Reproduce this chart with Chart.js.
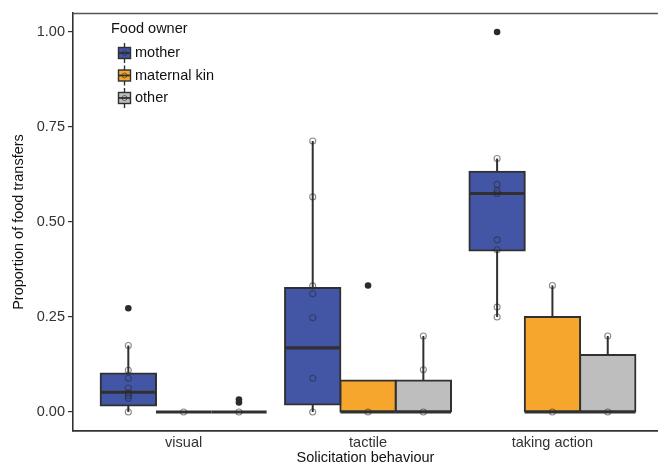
<!DOCTYPE html>
<html>
<head>
<meta charset="utf-8">
<script src="https://cdn.jsdelivr.net/npm/chart.js@4.4.1/dist/chart.umd.min.js"></script>
<style>
  html, body { margin: 0; padding: 0; background: #ffffff; overflow: hidden; }
  #wrap { width: 663px; height: 468px; position: relative; }
</style>
</head>
<body>
<div id="wrap"><canvas id="chart"></canvas></div>
<script>
// Solicitation behaviours on the x axis
const categories = ['visual', 'tactile', 'taking action'];
const owners = ['mother', 'maternal kin', 'other'];
const yTicks = [0, 0.25, 0.5, 0.75, 1];

// Box statistics per behaviour (lower whisker, Q1, median, Q3, upper whisker)
const motherLow = [0, 0, 0.25];
const motherQ1 = [0.017, 0.020, 0.425];
const motherMedian = [0.052, 0.169, 0.575];
const motherQ3 = [0.101, 0.326, 0.632];
const motherHigh = [0.175, 0.713, 0.667];

const kinLow = [0, 0, 0];
const kinQ1 = [0, 0, 0];
const kinMedian = [0, 0, 0];
const kinQ3 = [0, 0.083, 0.25];
const kinHigh = [0, 0.083, 0.333];

const otherLow = [0, 0, 0];
const otherQ1 = [0, 0, 0];
const otherMedian = [0, 0, 0];
const otherQ3 = [0, 0.083, 0.15];
const otherHigh = [0, 0.2, 0.2];

// Individual observations per behaviour
const motherPoints = [
  [0, 0.036, 0.043, 0.050, 0.063, 0.089, 0.110, 0.175],
  [0, 0.089, 0.248, 0.311, 0.332, 0.566, 0.713],
  [0.25, 0.276, 0.427, 0.453, 0.575, 0.582, 0.599, 0.667]
];
const kinPoints = [[0], [0], [0, 0.333]];
const otherPoints = [[0], [0, 0.111, 0.2], [0, 0.2]];

// Outliers beyond the whiskers
const motherOutliers = [[0.273], [], [1.0]];
const kinOutliers = [[], [0.333], []];
const otherOutliers = [[0.025, 0.033], [], []];

const fills = ['#4356A6', '#F6A62C', '#BEBEBE'];
const edge = '#303030';
const categoryPercentage = 0.9;
const dodge = categoryPercentage / owners.length;

const stats = [
  { low: motherLow, q1: motherQ1, med: motherMedian, q3: motherQ3, high: motherHigh, pts: motherPoints, out: motherOutliers },
  { low: kinLow, q1: kinQ1, med: kinMedian, q3: kinQ3, high: kinHigh, pts: kinPoints, out: kinOutliers },
  { low: otherLow, q1: otherQ1, med: otherMedian, q3: otherQ3, high: otherHigh, pts: otherPoints, out: otherOutliers }
];

const boxDatasets = stats.map((s, k) => ({
  type: 'bar',
  label: owners[k],
  data: categories.map((c, i) => ({ x: i + 1, y: [s.q1[i], s.q3[i]] })),
  backgroundColor: fills[k],
  borderColor: edge,
  borderWidth: 2,
  borderSkipped: false,
  inflateAmount: 1,
  categoryPercentage: categoryPercentage,
  barPercentage: 1,
  order: 3
}));

const pointData = [];
const outlierData = [];
stats.forEach((s, k) => {
  categories.forEach((c, i) => {
    const xv = i + 1 + (k - 1) * dodge;
    s.pts[i].forEach(v => pointData.push({ x: xv, y: v }));
    s.out[i].forEach(v => outlierData.push({ x: xv, y: v }));
  });
});

const pointDataset = {
  type: 'scatter', label: 'observations', data: pointData,
  pointRadius: 3, pointBorderWidth: 1.1, pointBackgroundColor: 'rgba(0,0,0,0)',
  pointBorderColor: 'rgba(40,40,40,0.55)', order: 1
};
const outlierDataset = {
  type: 'scatter', label: 'outliers', data: outlierData,
  pointRadius: 3.3, pointBorderWidth: 0, pointBackgroundColor: '#2b2b2b', order: 2
};

// Whiskers behind the boxes, medians over them
const boxExtras = {
  id: 'boxExtras',
  beforeDatasetsDraw(chart) {
    const ctx = chart.ctx, y = chart.scales.y;
    ctx.save();
    ctx.strokeStyle = edge;
    ctx.lineWidth = 2;
    stats.forEach((s, k) => {
      const meta = chart.getDatasetMeta(k);
      meta.data.forEach((el, i) => {
        if (s.high[i] === s.low[i]) return;
        ctx.beginPath();
        ctx.moveTo(el.x, y.getPixelForValue(s.low[i]));
        ctx.lineTo(el.x, y.getPixelForValue(s.high[i]));
        ctx.stroke();
      });
    });
    ctx.restore();
  },
  afterDatasetDraw(chart, args) {
    if (args.index > 2) return;
    const s = stats[args.index];
    const ctx = chart.ctx, y = chart.scales.y;
    ctx.save();
    ctx.strokeStyle = edge;
    ctx.lineWidth = 3.2;
    args.meta.data.forEach((el, i) => {
      const py = y.getPixelForValue(s.med[i]);
      ctx.beginPath();
      ctx.moveTo(el.x - el.width / 2, py);
      ctx.lineTo(el.x + el.width / 2, py);
      ctx.stroke();
    });
    ctx.restore();
  },
  afterDraw(chart) {
    const ctx = chart.ctx, a = chart.chartArea;
    ctx.save();
    // panel top edge
    ctx.strokeStyle = '#555555';
    ctx.lineWidth = 1.3;
    ctx.beginPath();
    ctx.moveTo(a.left, a.top + 0.5);
    ctx.lineTo(a.right, a.top + 0.5);
    ctx.stroke();

    // legend
    const lx = 111, ly = 29;
    ctx.font = '14.5px "Liberation Sans", Arial, sans-serif';
    ctx.fillStyle = '#111111';
    ctx.textBaseline = 'middle';
    ctx.textAlign = 'left';
    ctx.fillText('Food owner', lx, ly);
    owners.forEach((name, k) => {
      const cy = 53 + k * 22.5, cx = 124.5;
      ctx.strokeStyle = edge;
      ctx.lineWidth = 1.4;
      ctx.beginPath();
      ctx.moveTo(cx, cy - 10); ctx.lineTo(cx, cy + 10);
      ctx.stroke();
      ctx.fillStyle = fills[k];
      ctx.fillRect(cx - 6, cy - 5.5, 12, 11);
      ctx.strokeRect(cx - 6, cy - 5.5, 12, 11);
      ctx.lineWidth = 1.8;
      ctx.beginPath();
      ctx.moveTo(cx - 6, cy); ctx.lineTo(cx + 6, cy);
      ctx.stroke();
      ctx.strokeStyle = 'rgba(40,40,40,0.6)';
      ctx.lineWidth = 1;
      ctx.beginPath();
      ctx.arc(cx, cy, 2.5, 0, Math.PI * 2);
      ctx.stroke();
      ctx.fillStyle = '#111111';
      ctx.fillText(name, 135, cy);
    });
    ctx.restore();
  }
};

const font = { family: '"Liberation Sans", Arial, sans-serif', size: 14.5 };

new Chart(document.getElementById('chart'), {
  type: 'bar',
  data: { datasets: [...boxDatasets, outlierDataset, pointDataset] },
  options: {
    responsive: true,
    maintainAspectRatio: false,
    animation: false,
    layout: { padding: { top: 13, left: 0, right: 0, bottom: 0 } },
    plugins: { legend: { display: false }, tooltip: { enabled: false } },
    scales: {
      x: {
        type: 'linear',
        min: 0.4,
        max: 3.572,
        offset: false,
        grid: { display: false, drawTicks: false, offset: false },
        border: { display: true, color: '#333333', width: 1.8 },
        afterBuildTicks(scale) { scale.ticks = categories.map((c, i) => ({ value: i + 1 })); },
        ticks: {
          autoSkip: false, maxRotation: 0, padding: 3,
          color: '#333333', font: font,
          callback: (v) => categories[Math.round(v) - 1]
        },
        title: { display: true, text: 'Solicitation behaviour', color: '#111111', font: font, padding: { top: 0, bottom: 1 } },
        afterFit(scale) { scale.height = 37; }
      },
      y: {
        min: -0.05,
        max: 1.05,
        grid: { display: true, drawOnChartArea: false, drawTicks: true, tickLength: 5, color: '#333333', lineWidth: 1.2 },
        border: { display: true, color: '#333333', width: 1.6 },
        afterBuildTicks(scale) { scale.ticks = yTicks.map(v => ({ value: v })); },
        ticks: { color: '#333333', font: font, padding: 3, callback: (v) => Number(v).toFixed(2) },
        title: { display: true, text: 'Proportion of food transfers', color: '#111111', font: font, padding: { top: 10, bottom: 0 } },
        afterFit(scale) { scale.width = 73; }
      }
    }
  },
  plugins: [boxExtras]
});
</script>
</body>
</html>
